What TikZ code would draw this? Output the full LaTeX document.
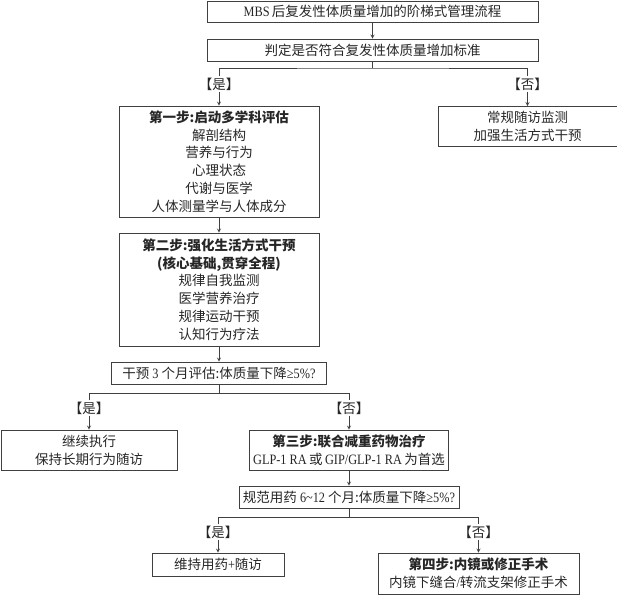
\documentclass[tikz,border=0pt]{standalone}
\usepackage{fontspec}
\setmainfont{Noto Sans CJK SC}
\newfontfamily\latn[FakeStretch=0.86,Scale=1.06]{Liberation Serif}
\usepackage{tikz}
\usetikzlibrary{positioning,arrows}

\newcommand{\hd}[1]{{\bfseries #1}}
\newcommand{\lat}[1]{{\latn #1}}

\begin{document}
\begin{tikzpicture}[x=1pt,y=-1pt,
                color=black!75,line width=0.8pt,
                every node/.style={font=\fontsize{13.5}{17.8}\selectfont,text=black!85},
                box/.style={draw,align=center,inner sep=0pt},
                tag/.style={inner sep=1pt},
            ]
                \useasboundingbox (0,0) rectangle (617,595);

                \node[box,minimum width=331pt,minimum height=21pt] (top) at (372.5,11.5) {\lat{MBS}\,后复发性体质量增加的阶梯式管理流程};
                \node[box,minimum width=331pt,minimum height=22pt] (crit) at (372.5,50) {判定是否符合复发性体质量增加标准};
                \node[box,minimum width=200pt,minimum height=111pt] (step1) at (219,161.5) {\hd{第一步:启动多学科评估}\\解剖结构\\营养与行为\\心理状态\\代谢与医学\\人体测量学与人体成分};
                \node[box,minimum width=179pt,minimum height=40pt] (routine) at (527.5,126.5) {常规随访监测\\加强生活方式干预};
                \node[box,minimum width=200pt,minimum height=113pt] (step2) at (219,289.5) {\hd{第二步:强化生活方式干预}\\\hd{(核心基础,贯穿全程)}\\规律自我监测\\医学营养治疗\\规律运动干预\\认知行为疗法};
                \node[box,minimum width=215pt,minimum height=22pt] (eval1) at (219,373) {干预\lat{ 3 }个月评估:体质量下降\lat{≥5\%?}};
                \node[box,minimum width=176pt,minimum height=40pt] (keep) at (89,450) {继续执行\\保持长期行为随访};
                \node[box,minimum width=199pt,minimum height=40pt] (step3) at (349,450) {\hd{第三步:联合减重药物治疗}\\\lat{GLP-1 RA\,}或\lat{\,GIP/GLP-1 RA\,}为首选};
                \node[box,minimum width=220pt,minimum height=22pt] (eval2) at (349,497) {规范用药\lat{ 6\textasciitilde12 }个月:体质量下降\lat{≥5\%?}};
                \node[box,minimum width=132pt,minimum height=23pt] (maint) at (218,564.5) {维持用药\lat{+}随访};
                \node[box,minimum width=201pt,minimum height=41pt] (step4) at (478.5,573.5) {\hd{第四步:内镜或修正手术}\\内镜下缝合\lat{/}转流支架修正手术};

                \node[tag] (yes1) at (219,84) {【是】};
                \node[tag] (no1) at (527.5,84) {【否】};
                \node[tag] (yes2) at (89,408) {【是】};
                \node[tag] (no2) at (349,408) {【否】};
                \node[tag] (yes3) at (218,532) {【是】};
                \node[tag] (no3) at (478.5,532) {【否】};

                \coordinate (j1) at (372.5,68);
                \coordinate (j2) at (219,393);
                \coordinate (j3) at (349,517);

% main column
                \draw [-stealth](top) -- (crit);
                \draw (crit) -- (j1);
                \draw (yes1) |- (j1) -| (no1);
                \draw [-stealth](yes1) -- (step1);
                \draw [-stealth](no1) -- (routine);
                \draw [-stealth](step1) -- (step2);
                \draw [-stealth](step2) -- (eval1);
                \draw (eval1) -- (j2);
                \draw (yes2) |- (j2) -| (no2);
                \draw [-stealth](yes2) -- (keep);
                \draw [-stealth](no2) -- (step3);
                \draw [-stealth](step3) -- (eval2);
                \draw (eval2) -- (j3);
                \draw (yes3) |- (j3) -| (no3);
                \draw [-stealth](yes3) -- (maint);
                \draw [-stealth](no3) -- (step4);
            \end{tikzpicture}
\end{document}
